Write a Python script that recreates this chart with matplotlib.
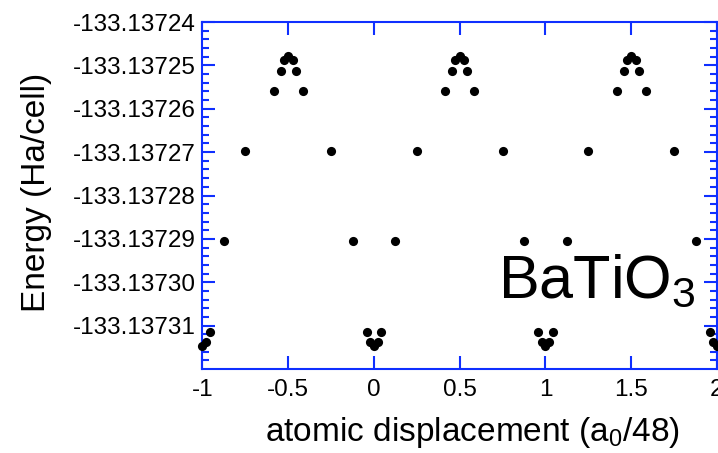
import matplotlib
matplotlib.use('Agg')
import matplotlib.pyplot as plt
from matplotlib.ticker import MultipleLocator, FuncFormatter

# === CONFIG ===
OUT_FILE = 'out.png'
DPI = 100
FIG_W, FIG_H = 7.18, 4.53

SPINE_COLOR = '#0f2fff'
POINT_COLOR = 'black'
FONT = ['Liberation Sans', 'DejaVu Sans']

X_MIN, X_MAX = -1.0, 2.0
Y_MIN, Y_MAX = -133.13732, -133.13724
# === END CONFIG ===

# Atomic displacement (a0/48) of each sampled configuration
displacement = [
    -1.000, -0.979, -0.957, -0.875, -0.750,
    -0.585, -0.543, -0.525, -0.500, -0.475, -0.457, -0.415,
    -0.250, -0.125, -0.043, -0.021, 0.000, 0.021, 0.043, 0.125, 0.250,
    0.415, 0.457, 0.475, 0.500, 0.525, 0.543, 0.585,
    0.750, 0.875, 0.957, 0.979, 1.000, 1.021, 1.043, 1.125, 1.250,
    1.415, 1.457, 1.475, 1.500, 1.525, 1.543, 1.585,
    1.750, 1.875, 1.957, 1.979, 2.000,
]

# Total energy (Ha/cell)
energy = [
    -133.1373147, -133.1373137, -133.1373114, -133.1372905, -133.1372697,
    -133.1372560, -133.1372513, -133.1372488, -133.1372478, -133.1372488, -133.1372513, -133.1372560,
    -133.1372697, -133.1372905, -133.1373114, -133.1373137, -133.1373147, -133.1373137, -133.1373114, -133.1372905, -133.1372697,
    -133.1372560, -133.1372513, -133.1372488, -133.1372478, -133.1372488, -133.1372513, -133.1372560,
    -133.1372697, -133.1372905, -133.1373114, -133.1373137, -133.1373147, -133.1373137, -133.1373114, -133.1372905, -133.1372697,
    -133.1372560, -133.1372513, -133.1372488, -133.1372478, -133.1372488, -133.1372513, -133.1372560,
    -133.1372697, -133.1372905, -133.1373114, -133.1373137, -133.1373147,
]

plt.rcParams['font.family'] = FONT
plt.rcParams['mathtext.default'] = 'regular'

fig = plt.figure(figsize=(FIG_W, FIG_H), dpi=DPI)
ax = fig.add_axes([0.282, 0.1854, 0.7166, 0.766])

ax.plot(displacement, energy, 'o', color=POINT_COLOR, ms=6.6, mew=0,
        clip_on=False, zorder=3)

ax.set_xlim(X_MIN, X_MAX)
ax.set_ylim(Y_MIN, Y_MAX)

# ticks: inward on all four sides, minor ticks only on energy axis
ax.xaxis.set_major_locator(MultipleLocator(0.5))
ax.yaxis.set_major_locator(MultipleLocator(1e-5))
ax.yaxis.set_minor_locator(MultipleLocator(2e-6))
ax.xaxis.set_major_formatter(FuncFormatter(lambda v, p: '%g' % v))
ax.yaxis.set_major_formatter(FuncFormatter(lambda v, p: '%.5f' % v))
ax.tick_params(which='both', direction='in', top=True, right=True,
               color=SPINE_COLOR, width=1.5, labelsize=17.5)
ax.tick_params(which='major', length=9.5)
ax.tick_params(which='minor', length=4.7)
ax.tick_params(axis='y', pad=5)
ax.tick_params(axis='x', pad=7)

for s in ax.spines.values():
    s.set_color(SPINE_COLOR)
    s.set_linewidth(1.5)

ax.set_xlabel(r'atomic displacement (a$_0$/48)', fontsize=24)
ax.set_ylabel('Energy (Ha/cell)', fontsize=24)
ax.xaxis.set_label_coords(0.524, -0.132)
ax.yaxis.set_label_coords(-0.292, 0.51)

ax.text(0.574, 0.205, r'BaTiO$_3$', transform=ax.transAxes, fontsize=44,
        ha='left', va='baseline')

plt.savefig(OUT_FILE, dpi=DPI)
plt.close()
